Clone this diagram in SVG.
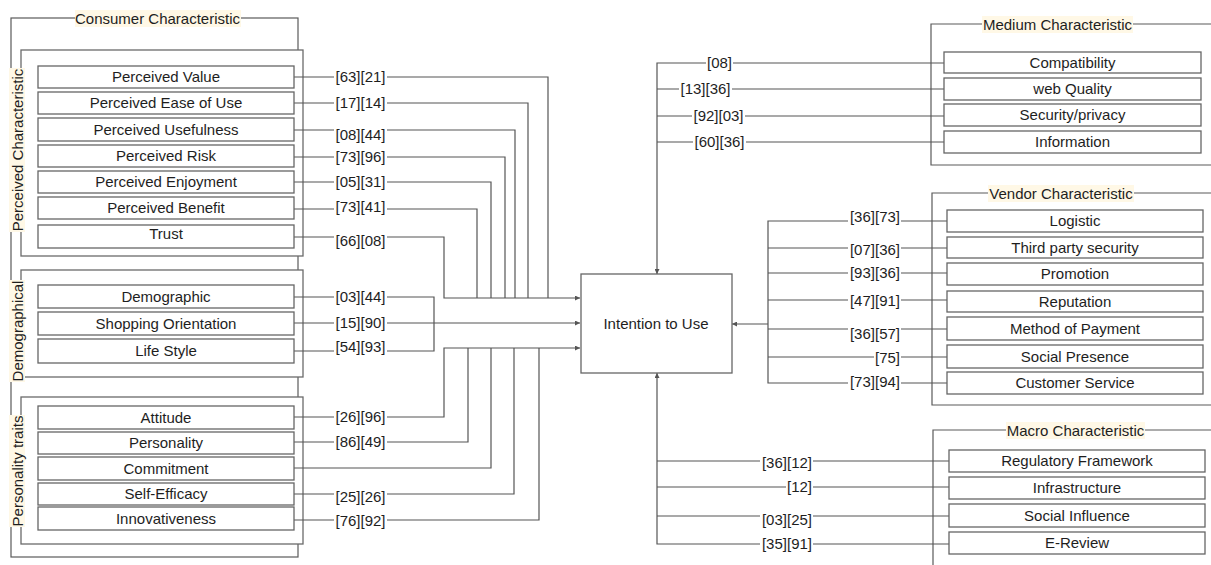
<svg xmlns="http://www.w3.org/2000/svg" width="1211" height="565" viewBox="0 0 1211 565">
<style>
.bg{fill:#fff}
.grp{fill:none;stroke:#5a5a5a;stroke-width:1.2}
.inner{fill:#fff;stroke:#6a6a6a;stroke-width:1.3}
.box{fill:#fff;stroke:#666;stroke-width:1.3}
.c{fill:none;stroke:#555;stroke-width:1.2}
.t{font-family:"Liberation Sans",Arial,sans-serif;font-size:15px;fill:#1e1e1e;text-anchor:middle}
.te{font-family:"Liberation Sans",Arial,sans-serif;font-size:15px;fill:#1e1e1e;text-anchor:end}
.lbg{fill:#fff}
.cbg{fill:#fff8e6}
</style>
<defs>
<marker id="ah" viewBox="0 0 6 6" refX="6" refY="3" markerWidth="6" markerHeight="5" orient="auto" markerUnits="userSpaceOnUse">
<path d="M0,0 L6,3 L0,6 z" fill="#555"/>
</marker>
</defs>
<rect class="bg" x="0" y="0" width="1211" height="565"/>

<!-- Consumer group containers -->
<g id="consumer-group">
<rect class="grp" x="11" y="18" width="287" height="539"/>
<rect class="inner" x="21" y="50" width="282" height="206"/>
<rect class="inner" x="21" y="270" width="282" height="107"/>
<rect class="inner" x="21" y="397" width="282" height="147"/>
<rect class="cbg" x="75" y="10" width="166" height="17"/>
<text class="t" x="157.5" y="23.5">Consumer Characteristic</text>
<g transform="translate(17,150) rotate(-90)"><rect class="cbg" x="-82" y="-8" width="164" height="16"/><text class="t" x="0" y="5.5">Perceived Characteristic</text></g>
<g transform="translate(17,331) rotate(-90)"><rect class="cbg" x="-51" y="-8" width="102" height="16"/><text class="t" x="0" y="5.5">Demographical</text></g>
<g transform="translate(17,471) rotate(-90)"><rect class="cbg" x="-56" y="-8" width="112" height="16"/><text class="t" x="0" y="5.5">Personality traits</text></g>
</g>

<!-- Right group containers -->
<g id="medium-group">
<path class="grp" d="M1215,24 H931 V165 H1215"/>
<rect class="cbg" x="982" y="16" width="151" height="17"/>
<text class="t" x="1057.5" y="29.5">Medium Characteristic</text>
</g>
<g id="vendor-group">
<path class="grp" d="M1215,193 H932 V405 H1215"/>
<rect class="cbg" x="988" y="185" width="146" height="17"/>
<text class="t" x="1061" y="198.5">Vendor Characteristic</text>
</g>
<g id="macro-group">
<path class="grp" d="M1215,430 H933 V570"/>
<rect class="cbg" x="1006" y="422" width="139" height="17"/>
<text class="t" x="1075.5" y="435.5">Macro Characteristic</text>
</g>

<!-- Connectors -->
<g id="connectors">
<path class="c" d="M294,77 H548 V298"/>
<path class="c" d="M294,103 H528 V298"/>
<path class="c" d="M294,130 H515 V298"/>
<path class="c" d="M294,157 H505 V298"/>
<path class="c" d="M294,182 H491 V298"/>
<path class="c" d="M294,209 H477 V298"/>
<path class="c" d="M294,237 H444 V298 H580" marker-end="url(#ah)"/>
<path class="c" d="M294,297 H434 V323"/>
<path class="c" d="M294,351 H434 V323"/>
<path class="c" d="M294,323 H580" marker-end="url(#ah)"/>
<path class="c" d="M294,417 H444 V348 H580" marker-end="url(#ah)"/>
<path class="c" d="M294,442 H468 V348"/>
<path class="c" d="M294,468 H491 V348"/>
<path class="c" d="M294,494 H514 V348"/>
<path class="c" d="M294,520 H539 V348"/>
<path class="c" d="M944,63 H657 V274" marker-end="url(#ah)"/>
<path class="c" d="M944,89 H657"/>
<path class="c" d="M944,116 H657"/>
<path class="c" d="M944,142 H657"/>
<path class="c" d="M947,221 H768 V383 H947"/>
<path class="c" d="M947,248 H768"/>
<path class="c" d="M947,273 H768"/>
<path class="c" d="M947,300 H768"/>
<path class="c" d="M947,329 H768"/>
<path class="c" d="M947,357 H768"/>
<path class="c" d="M768,324 H732" marker-end="url(#ah)"/>
<path class="c" d="M949,544 H657 V373" marker-end="url(#ah)"/>
<path class="c" d="M949,461 H657"/>
<path class="c" d="M949,487 H657"/>
<path class="c" d="M949,516 H657"/>

<!-- connector labels -->
<g id="edge-labels">
<rect class="lbg" x="334" y="69" width="53" height="16"/><text class="t" x="360.5" y="82">[63][21]</text>
<rect class="lbg" x="334" y="95" width="53" height="16"/><text class="t" x="360.5" y="108">[17][14]</text>
<rect class="lbg" x="334" y="127" width="53" height="16"/><text class="t" x="360.5" y="140">[08][44]</text>
<rect class="lbg" x="334" y="149" width="53" height="16"/><text class="t" x="360.5" y="162">[73][96]</text>
<rect class="lbg" x="334" y="174" width="53" height="16"/><text class="t" x="360.5" y="187">[05][31]</text>
<rect class="lbg" x="334" y="199" width="53" height="16"/><text class="t" x="360.5" y="212">[73][41]</text>
<rect class="lbg" x="334" y="233" width="53" height="16"/><text class="t" x="360.5" y="246">[66][08]</text>
<rect class="lbg" x="334" y="289" width="53" height="16"/><text class="t" x="360.5" y="302">[03][44]</text>
<rect class="lbg" x="334" y="315" width="53" height="16"/><text class="t" x="360.5" y="328">[15][90]</text>
<rect class="lbg" x="334" y="339" width="53" height="16"/><text class="t" x="360.5" y="352">[54][93]</text>
<rect class="lbg" x="334" y="409" width="53" height="16"/><text class="t" x="360.5" y="422">[26][96]</text>
<rect class="lbg" x="334" y="434" width="53" height="16"/><text class="t" x="360.5" y="447">[86][49]</text>
<rect class="lbg" x="334" y="489" width="53" height="16"/><text class="t" x="360.5" y="502">[25][26]</text>
<rect class="lbg" x="334" y="513" width="53" height="16"/><text class="t" x="360.5" y="526">[76][92]</text>

<rect class="lbg" x="706" y="55" width="27" height="16"/><text class="t" x="719.5" y="68">[08]</text>
<rect class="lbg" x="679" y="81" width="53" height="16"/><text class="t" x="705.5" y="94">[13][36]</text>
<rect class="lbg" x="692" y="108" width="53" height="16"/><text class="t" x="718.5" y="121">[92][03]</text>
<rect class="lbg" x="693" y="134" width="53" height="16"/><text class="t" x="719.5" y="147">[60][36]</text>

<rect class="lbg" x="848" y="209" width="53" height="16"/><text class="te" x="900" y="222">[36][73]</text>
<rect class="lbg" x="848" y="242" width="53" height="16"/><text class="te" x="900" y="255">[07][36]</text>
<rect class="lbg" x="848" y="265" width="53" height="16"/><text class="te" x="900" y="278">[93][36]</text>
<rect class="lbg" x="848" y="293" width="53" height="16"/><text class="te" x="900" y="306">[47][91]</text>
<rect class="lbg" x="848" y="326" width="53" height="16"/><text class="te" x="900" y="339">[36][57]</text>
<rect class="lbg" x="874" y="350" width="27" height="16"/><text class="te" x="900" y="363">[75]</text>
<rect class="lbg" x="848" y="374" width="53" height="16"/><text class="te" x="900" y="387">[73][94]</text>

<rect class="lbg" x="760" y="455" width="53" height="16"/><text class="te" x="812" y="468">[36][12]</text>
<rect class="lbg" x="786" y="479" width="27" height="16"/><text class="te" x="812" y="492">[12]</text>
<rect class="lbg" x="760" y="512" width="53" height="16"/><text class="te" x="812" y="525">[03][25]</text>
<rect class="lbg" x="760" y="536" width="53" height="16"/><text class="te" x="812" y="549">[35][91]</text>
</g>
</g>

<!-- Nodes: consumer -->
<g id="n-perceived-value"><rect class="box" x="38" y="66" width="256" height="22"/><text class="t" x="166" y="82">Perceived Value</text></g>
<g id="n-ease-of-use"><rect class="box" x="38" y="92" width="256" height="22"/><text class="t" x="166" y="108">Perceived Ease of Use</text></g>
<g id="n-usefulness"><rect class="box" x="38" y="118" width="256" height="23"/><text class="t" x="166" y="134.5">Perceived Usefulness</text></g>
<g id="n-risk"><rect class="box" x="38" y="145" width="256" height="22"/><text class="t" x="166" y="161">Perceived Risk</text></g>
<g id="n-enjoyment"><rect class="box" x="38" y="171" width="256" height="22"/><text class="t" x="166" y="187">Perceived Enjoyment</text></g>
<g id="n-benefit"><rect class="box" x="38" y="197" width="256" height="22"/><text class="t" x="166" y="213">Perceived Benefit</text></g>
<g id="n-trust"><rect class="box" x="38" y="225" width="256" height="23"/><text class="t" x="166" y="238.5">Trust</text></g>
<g id="n-demographic"><rect class="box" x="38" y="285" width="256" height="23"/><text class="t" x="166" y="302">Demographic</text></g>
<g id="n-shopping"><rect class="box" x="38" y="312" width="256" height="23"/><text class="t" x="166" y="328.5">Shopping Orientation</text></g>
<g id="n-lifestyle"><rect class="box" x="38" y="339" width="256" height="24"/><text class="t" x="166" y="356">Life Style</text></g>
<g id="n-attitude"><rect class="box" x="38" y="406" width="256" height="23"/><text class="t" x="166" y="422.5">Attitude</text></g>
<g id="n-personality"><rect class="box" x="38" y="432" width="256" height="22"/><text class="t" x="166" y="448">Personality</text></g>
<g id="n-commitment"><rect class="box" x="38" y="457" width="256" height="23"/><text class="t" x="166" y="473.5">Commitment</text></g>
<g id="n-self-efficacy"><rect class="box" x="38" y="483" width="256" height="22"/><text class="t" x="166" y="499">Self-Efficacy</text></g>
<g id="n-innovativeness"><rect class="box" x="38" y="507" width="256" height="23"/><text class="t" x="166" y="523.5">Innovativeness</text></g>

<!-- Central node -->
<g id="n-intention"><rect class="box" x="581" y="274" width="151" height="99"/><text class="t" x="656" y="328.5">Intention to Use</text></g>

<!-- Medium nodes -->
<g id="n-compatibility"><rect class="box" x="944" y="52" width="257" height="21"/><text class="t" x="1072.5" y="67.5">Compatibility</text></g>
<g id="n-web-quality"><rect class="box" x="944" y="78" width="257" height="22"/><text class="t" x="1072.5" y="94">web Quality</text></g>
<g id="n-security"><rect class="box" x="944" y="104" width="257" height="22"/><text class="t" x="1072.5" y="120">Security/privacy</text></g>
<g id="n-information"><rect class="box" x="944" y="131" width="257" height="22"/><text class="t" x="1072.5" y="147">Information</text></g>

<!-- Vendor nodes -->
<g id="n-logistic"><rect class="box" x="947" y="210" width="256" height="22"/><text class="t" x="1075" y="226">Logistic</text></g>
<g id="n-third-party"><rect class="box" x="947" y="237" width="256" height="21"/><text class="t" x="1075" y="252.5">Third party security</text></g>
<g id="n-promotion"><rect class="box" x="947" y="263" width="256" height="22"/><text class="t" x="1075" y="279">Promotion</text></g>
<g id="n-reputation"><rect class="box" x="947" y="291" width="256" height="21"/><text class="t" x="1075" y="306.5">Reputation</text></g>
<g id="n-payment"><rect class="box" x="947" y="317" width="256" height="23"/><text class="t" x="1075" y="333.5">Method of Payment</text></g>
<g id="n-social-presence"><rect class="box" x="947" y="345" width="256" height="23"/><text class="t" x="1075" y="361.5">Social Presence</text></g>
<g id="n-customer-service"><rect class="box" x="947" y="372" width="256" height="22"/><text class="t" x="1075" y="388">Customer Service</text></g>

<!-- Macro nodes -->
<g id="n-regulatory"><rect class="box" x="949" y="450" width="256" height="22"/><text class="t" x="1077" y="466">Regulatory Framework</text></g>
<g id="n-infrastructure"><rect class="box" x="949" y="477" width="256" height="22"/><text class="t" x="1077" y="493">Infrastructure</text></g>
<g id="n-social-influence"><rect class="box" x="949" y="504" width="256" height="23"/><text class="t" x="1077" y="520.5">Social Influence</text></g>
<g id="n-e-review"><rect class="box" x="949" y="532" width="256" height="22"/><text class="t" x="1077" y="548">E-Review</text></g>
</svg>
